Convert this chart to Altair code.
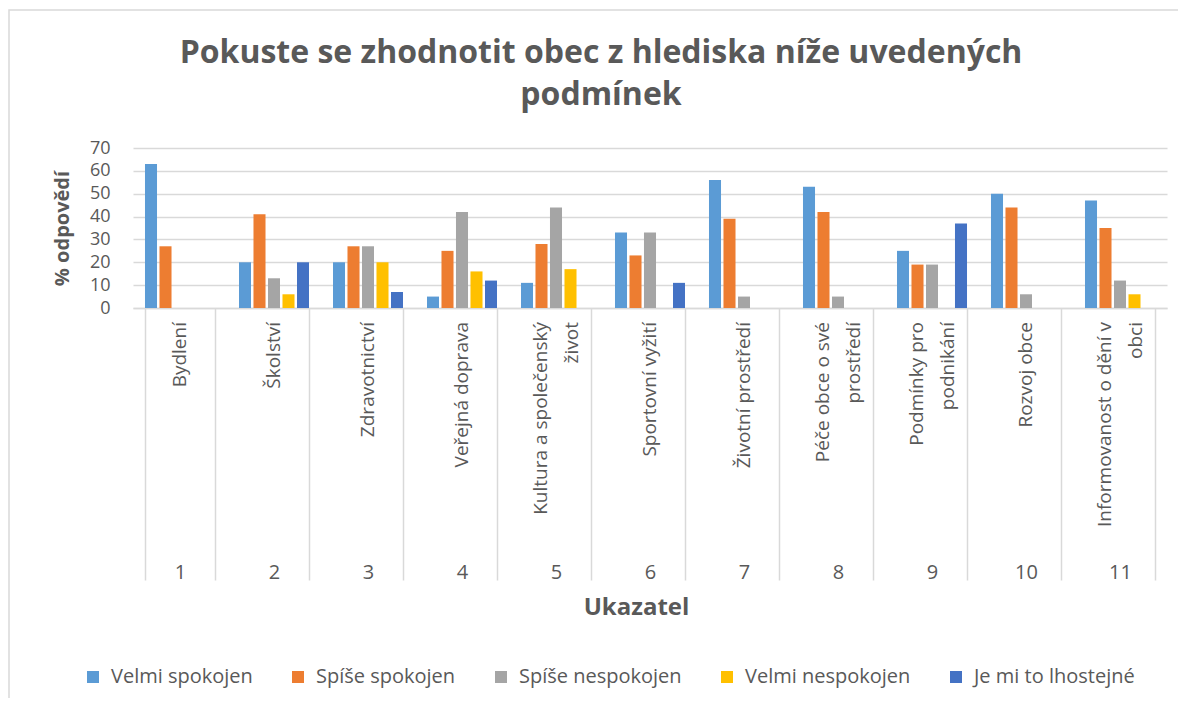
import altair as alt
import pandas as pd

# ---- data ----
categories = ["1", "2", "3", "4", "5", "6", "7", "8", "9", "10", "11"]
names = [
    "Bydlení",
    "Školství",
    "Zdravotnictví",
    "Veřejná doprava",
    "Kultura a společenský|život",
    "Sportovní vyžití",
    "Životní prostředí",
    "Péče obce o své|prostředí",
    "Podmínky pro|podnikání",
    "Rozvoj obce",
    "Informovanost o dění v|obci",
]
series = ["Velmi spokojen", "Spíše spokojen", "Spíše nespokojen",
          "Velmi nespokojen", "Je mi to lhostejné"]
velmi_spokojen = [63, 20, 20, 5, 11, 33, 56, 53, 25, 50, 47]
spise_spokojen = [27, 41, 27, 25, 28, 23, 39, 42, 19, 44, 35]
spise_nespokojen = [0, 13, 27, 42, 44, 33, 5, 5, 19, 6, 12]
velmi_nespokojen = [0, 6, 20, 16, 17, 0, 0, 0, 0, 0, 6]
lhostejne = [0, 20, 7, 12, 0, 11, 0, 0, 37, 0, 0]
colors = ["#5B9BD5", "#ED7D31", "#A5A5A5", "#FFC000", "#4472C4"]
y_ticks = [0, 10, 20, 30, 40, 50, 60, 70]

title_text = "Pokuste se zhodnotit obec z hlediska níže uvedených|podmínek"

# ---- tables ----
values = [velmi_spokojen, spise_spokojen, spise_nespokojen, velmi_nespokojen, lhostejne]
rows = []
for s, vals in zip(series, values):
    for c, v in zip(categories, vals):
        rows.append({"cat": c, "series": s, "value": v})
df = pd.DataFrame(rows)
label_df = pd.DataFrame({"cat": categories, "name": names})
frame_df = pd.DataFrame({"k": [0]})
title_df = pd.DataFrame({"t": [title_text]})

GRAY = "#595959"
LINE = "#d9d9d9"
FONT = "Open Sans"

x_axis = alt.Axis(
    title="Ukazatel", labelAngle=0, grid=False,
    domainColor=LINE, domainWidth=1.5,
    tickColor=LINE, tickWidth=1.5, tickSize=272, tickBand="extent",
    labelPadding=-18, labelFont=FONT, labelFontSize=20, labelColor=GRAY,
    titleFont=FONT, titleFontSize=24, titleFontWeight="bold", titleColor=GRAY,
    titleBaseline="alphabetic", titleY=306, titleX=503, titleAlign="center",
)
x_enc = alt.X("cat:N", sort=categories, axis=x_axis,
              scale=alt.Scale(paddingInner=0.255, paddingOuter=0.1275))

bars = alt.Chart(df).mark_bar().encode(
    x=x_enc,
    xOffset=alt.XOffset("series:N", sort=series,
                        scale=alt.Scale(paddingInner=0.17, paddingOuter=0)),
    y=alt.Y("value:Q", scale=alt.Scale(domain=[0, 70], nice=False),
            axis=alt.Axis(
                values=y_ticks, grid=True, gridColor=LINE, gridWidth=1.5,
                domain=False, ticks=False, labelPadding=23,
                labelFont=FONT, labelFontSize=18, labelColor=GRAY,
                title="% odpovědí", titleFont=FONT, titleFontSize=20,
                titleFontWeight="bold", titleColor=GRAY, titlePadding=17,
            )),
    color=alt.Color("series:N", sort=series,
                    scale=alt.Scale(domain=series, range=colors),
                    legend=alt.Legend(
                        title=None, orient="none", legendX=-50, legendY=519,
                        direction="horizontal", columns=5, symbolType="square",
                        symbolSize=144, symbolStrokeWidth=0,
                        labelFont=FONT, labelFontSize=20, labelColor=GRAY,
                        labelLimit=400, columnPadding=35, labelOffset=8,
                    )),
)

label_base = alt.Chart(label_df).transform_calculate(
    lines="split(datum.name, '|')",
    n="length(split(datum.name, '|'))",
)
names_one = label_base.transform_filter("datum.n == 1").mark_text(
    angle=270, align="right", baseline="middle", font=FONT, fontSize=19,
    lineHeight=31, color=GRAY,
).encode(x=x_enc, y=alt.value(174), text="lines:N")
names_two = label_base.transform_filter("datum.n == 2").mark_text(
    angle=270, align="right", baseline="middle", font=FONT, fontSize=19,
    lineHeight=31, color=GRAY, dy=-15.5,
).encode(x=x_enc, y=alt.value(174), text="lines:N")

title_layer = alt.Chart(title_df).transform_calculate(
    lines="split(datum.t, '|')"
).mark_text(
    align="center", baseline="alphabetic", font=FONT, fontSize=32,
    fontWeight="bold", lineHeight=42, color=GRAY,
).encode(x=alt.value(468), y=alt.value(-85), text="lines:N")

frame = alt.Chart(frame_df).mark_rect(
    fill=None, stroke=LINE, strokeWidth=1.5
).encode(
    x=alt.value(-124), x2=alt.value(1064),
    y=alt.value(-138), y2=alt.value(570),
)

chart = alt.layer(frame, title_layer, bars, names_one, names_two).properties(
    width=1034, height=160,
    padding={"left": 125, "top": 140, "right": 11, "bottom": 390},
    autosize=alt.AutoSizeParams(type="none"),
).configure_view(stroke=None)

chart.save("out.html", embed_options={"renderer": "svg", "actions": False})
